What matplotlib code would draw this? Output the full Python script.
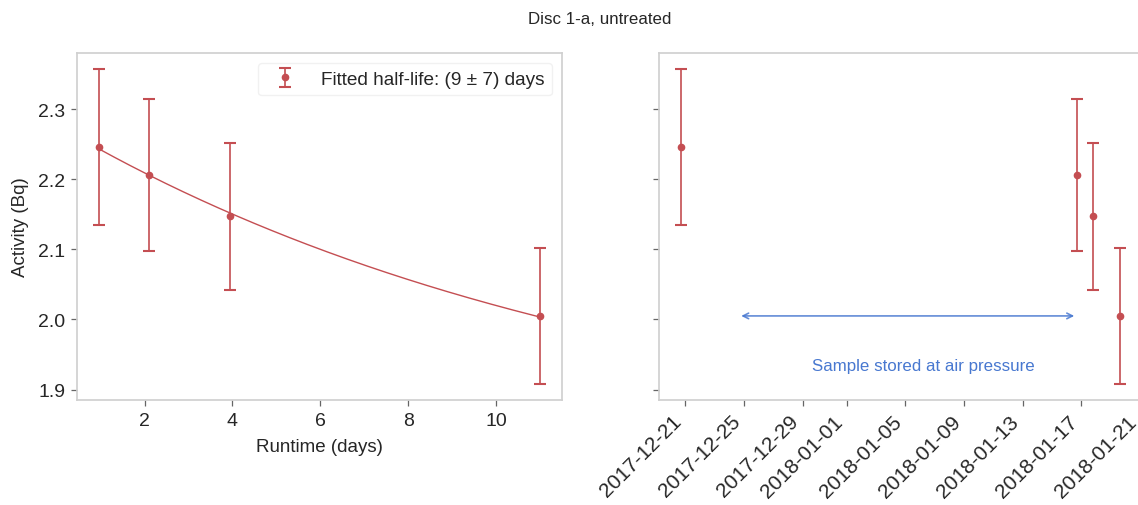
import numpy as np
import pandas as pd
import matplotlib
matplotlib.use("Agg")
import matplotlib.pyplot as plt
import matplotlib.dates as mdates

plt.rcParams['font.family'] = ['Liberation Sans', 'DejaVu Sans']

# Measured activity of the disc (Bq) with 1-sigma uncertainties
runtime_days = [0.967, 2.09, 3.95, 10.996]
activity = [2.246, 2.206, 2.147, 2.005]
activity_err = [0.111, 0.108, 0.105, 0.097]
measure_dates = pd.to_datetime(['2017-12-20 17:30', '2018-01-16 16:50',
                                '2018-01-17 19:40', '2018-01-19 15:40'])

# Fitted decay model
half_life = 9.0
half_life_err = 7.0

# Storage period annotation
storage_start = pd.Timestamp('2017-12-24 15:00')
storage_end = measure_dates[1]
storage_label = 'Sample stored at air pressure'
storage_label_pos = (pd.Timestamp('2018-01-06 05:00'), 1.934)

title = 'Disc 1-a, untreated'
red = '#C44E52'
blue = '#4878D0'

# Constant + exponential with fixed half-life: weighted linear least squares
t = np.asarray(runtime_days)
y = np.asarray(activity)
w = 1.0 / np.asarray(activity_err)
lam = np.log(2) / half_life
design = np.column_stack([np.ones_like(t), np.exp(-lam * t)])
coef, *_ = np.linalg.lstsq(design * w[:, None], y * w, rcond=None)
t_fit = np.linspace(t[0], t[-1], 200)
y_fit = coef[0] + coef[1] * np.exp(-lam * t_fit)

W, H = 1138, 506
fig = plt.figure(figsize=(W / 100, H / 100), dpi=100)
bottom = (H - 400.7) / H
height = 346.4 / H
ax1 = fig.add_axes([77.3 / W, bottom, 484.4 / W, height])
ax2 = fig.add_axes([659.3 / W, bottom, 483.0 / W, height], sharey=ax1)

eb_kw = dict(fmt='o', color=red, ecolor=red, markersize=4.5,
             elinewidth=1.2, capsize=4, capthick=1.5)

ax1.errorbar(runtime_days, activity, yerr=activity_err,
             label=f'Fitted half-life: ({half_life:.0f} ± {half_life_err:.0f}) days',
             **eb_kw)
ax1.plot(t_fit, y_fit, color=red, lw=1.0)
ax1.set_xlabel('Runtime (days)', fontsize=13.5, color='#262626', labelpad=6.5)
ax1.set_ylabel('Activity (Bq)', fontsize=13.5, color='#262626', labelpad=7)
ax1.set_xticks([2, 4, 6, 8, 10])
ax1.set_yticks([1.9, 2.0, 2.1, 2.2, 2.3])
leg = ax1.legend(loc='upper right', fontsize=13.7, frameon=True,
                 fancybox=True, handletextpad=0.9)
leg.get_frame().set_edgecolor('#eeeeee')
leg.get_frame().set_linewidth(1.0)
for txt in leg.get_texts():
    txt.set_color('#262626')

ax2.errorbar(measure_dates, activity, yerr=activity_err, **eb_kw)
ax2.annotate('', xy=(storage_end, activity[-1]), xytext=(storage_start, activity[-1]),
             arrowprops=dict(arrowstyle='<->', color=blue, lw=1.2, alpha=0.85))
ax2.text(storage_label_pos[0], storage_label_pos[1], storage_label,
         color=blue, fontsize=12.2, ha='center', va='center')
ax2.xaxis.set_major_locator(mdates.DayLocator(bymonthday=range(1, 32, 4)))
ax2.xaxis.set_major_formatter(mdates.DateFormatter('%Y-%m-%d'))

for ax in (ax1, ax2):
    for sp in ax.spines.values():
        sp.set_color('#d0d0d0')
        sp.set_linewidth(1.25)
    ax.tick_params(axis='both', which='major', length=4.5, width=0.9,
                   color='#666666', labelsize=14, labelcolor='#262626', pad=4)

plt.setp(ax2.get_xticklabels(), rotation=45, ha='right', fontsize=15)
plt.setp(ax2.get_yticklabels(), visible=False)

fig.text(600 / W, 1 - 19 / H, title, fontsize=12.2, color='#262626',
         ha='center', va='center')

fig.savefig('out.png', dpi=100)
